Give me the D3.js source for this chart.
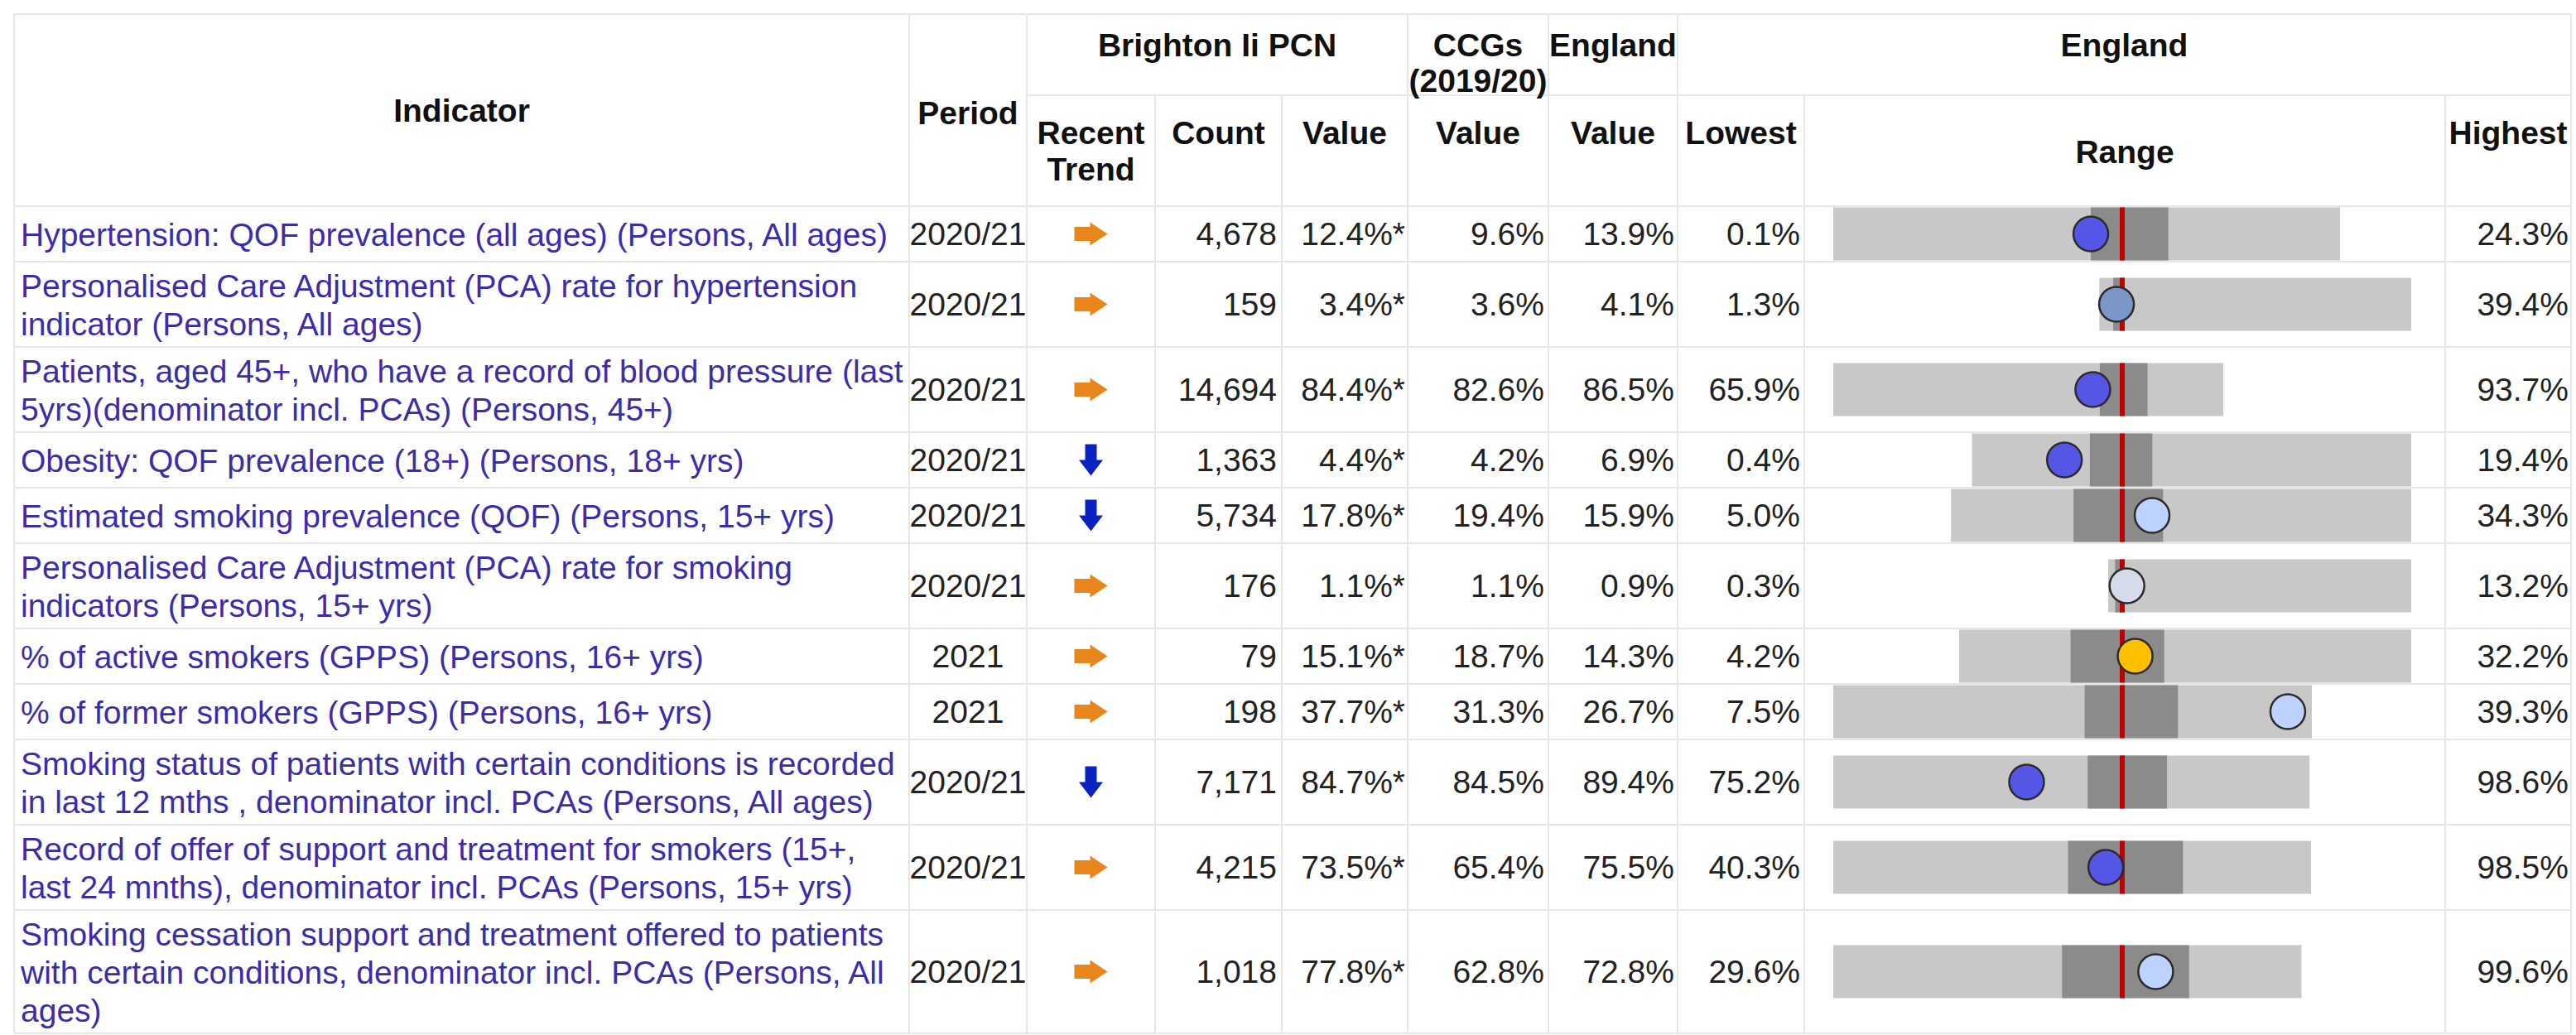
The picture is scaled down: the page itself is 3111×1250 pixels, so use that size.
<!DOCTYPE html>
<html>
<head>
<meta charset="utf-8">
<script src="https://cdn.jsdelivr.net/npm/d3@7"></script>
<style>
  body { margin: 0; background: #fff; }
  svg text { font-family: "Liberation Sans", Arial, sans-serif; }
</style>
</head>
<body>
<div id="chart"></div>
<script>
// indicator names, one entry per displayed line
const indicatorLines = [
  ["Hypertension: QOF prevalence (all ages) (Persons, All ages)"],
  ["Personalised Care Adjustment (PCA) rate for hypertension", "indicator (Persons, All ages)"],
  ["Patients, aged 45+, who have a record of blood pressure (last", "5yrs)(denominator incl. PCAs) (Persons, 45+)"],
  ["Obesity: QOF prevalence (18+) (Persons, 18+ yrs)"],
  ["Estimated smoking prevalence (QOF) (Persons, 15+ yrs)"],
  ["Personalised Care Adjustment (PCA) rate for smoking", "indicators (Persons, 15+ yrs)"],
  ["% of active smokers (GPPS) (Persons, 16+ yrs)"],
  ["% of former smokers (GPPS) (Persons, 16+ yrs)"],
  ["Smoking status of patients with certain conditions is recorded", "in last 12 mths , denominator incl. PCAs (Persons, All ages)"],
  ["Record of offer of support and treatment for smokers (15+,", "last 24 mnths), denominator incl. PCAs (Persons, 15+ yrs)"],
  ["Smoking cessation support and treatment offered to patients", "with certain conditions, denominator incl. PCAs (Persons, All", "ages)"]
];
const periods = ["2020/21", "2020/21", "2020/21", "2020/21", "2020/21", "2020/21", "2021", "2021", "2020/21", "2020/21", "2020/21"];
const trends = ["same", "same", "same", "down", "down", "same", "same", "same", "down", "same", "same"];
const counts = [4678, 159, 14694, 1363, 5734, 176, 79, 198, 7171, 4215, 1018];
const pcnValues = [12.4, 3.4, 84.4, 4.4, 17.8, 1.1, 15.1, 37.7, 84.7, 73.5, 77.8];
const ccgValues = [9.6, 3.6, 82.6, 4.2, 19.4, 1.1, 18.7, 31.3, 84.5, 65.4, 62.8];
const englandValues = [13.9, 4.1, 86.5, 6.9, 15.9, 0.9, 14.3, 26.7, 89.4, 75.5, 72.8];
const lowest = [0.1, 1.3, 65.9, 0.4, 5.0, 0.3, 4.2, 7.5, 75.2, 40.3, 29.6];
const highest = [24.3, 39.4, 93.7, 19.4, 34.3, 13.2, 32.2, 39.3, 98.6, 98.5, 99.6];
const pct25 = [12.4, 3.0, 84.9, 5.5, 12.8, 0.6, 11.1, 24.2, 87.7, 68.9, 63.8];
const pct75 = [16.1, 4.4, 88.3, 8.2, 18.5, 1.0, 16.9, 30.4, 91.6, 82.9, 82.8];
const comparison = ["lower", "mid", "lower", "lower", "higher", "pale", "similar", "higher", "lower", "lower", "higher"];

const compColors = {
  lower: "#5555E6",
  mid: "#7B97C9",
  higher: "#BED2FF",
  pale: "#D5DBEB",
  similar: "#FFC000"
};

const width = 3111, height = 1250;
const fontSize = 39, lineH = 46;
const gridColor = "#E6E6E6";
const textColor = "#222";
const linkColor = "#3B2DAA";

// column edges
const col = {
  left: 17, period: 1098, trend: 1240, count: 1395, value: 1548, ccg: 1700,
  eng: 1870, low: 2026, range: 2179, high: 2953, right: 3105
};
const tableTop = 17, headSplit = 115, headBottom = 249;

const svg = d3.select("#chart").append("svg")
  .attr("width", width)
  .attr("height", height);

svg.append("rect").attr("width", width).attr("height", height).attr("fill", "#fff");

// row geometry
const rowHeights = indicatorLines.map(l => l.length === 1 ? 67 : l.length * lineH + 11);
const rowTops = [headBottom, ...d3.cumsum(rowHeights).map(c => headBottom + c)].slice(0, rowHeights.length);
const rows = rowHeights.map((h, i) => ({ i, top: rowTops[i], h, mid: rowTops[i] + h / 2 }));
const tableBottom = rowTops[rows.length - 1] + rowHeights[rows.length - 1];

// grid lines
const grid = svg.append("g").attr("stroke", gridColor).attr("stroke-width", 2);
const hline = (x1, x2, y) => grid.append("line").attr("x1", x1).attr("x2", x2).attr("y1", y).attr("y2", y);
const vline = (x, y1, y2) => grid.append("line").attr("x1", x).attr("x2", x).attr("y1", y1).attr("y2", y2);

hline(col.left, col.right, tableTop);
hline(col.trend, col.right, headSplit);
hline(col.left, col.right, headBottom);
rows.forEach(r => hline(col.left, col.right, r.top + r.h));
vline(col.left, tableTop, tableBottom);
vline(col.right, tableTop, tableBottom);
[col.period, col.trend, col.ccg, col.eng, col.low].forEach(x => vline(x, tableTop, tableBottom));
[col.count, col.value, col.range, col.high].forEach(x => vline(x, headSplit, tableBottom));

// header
const head = svg.append("g")
  .attr("font-size", fontSize)
  .attr("font-weight", "bold")
  .attr("fill", "#111")
  .attr("text-anchor", "middle")
  .attr("dominant-baseline", "central");

const headerCells = [
  { t: "Indicator", x: (col.left + col.period) / 2, y: 133 },
  { t: "Period", x: (col.period + col.trend) / 2, y: 136 },
  { t: "Brighton Ii PCN", x: (col.trend + col.ccg) / 2, y: 54 },
  { t: "CCGs", x: (col.ccg + col.eng) / 2, y: 54 },
  { t: "(2019/20)", x: (col.ccg + col.eng) / 2, y: 97 },
  { t: "England", x: (col.eng + col.low) / 2, y: 54 },
  { t: "England", x: (col.low + col.right) / 2, y: 54 },
  { t: "Recent", x: (col.trend + col.count) / 2, y: 160 },
  { t: "Trend", x: (col.trend + col.count) / 2, y: 204 },
  { t: "Count", x: (col.count + col.value) / 2, y: 160 },
  { t: "Value", x: (col.value + col.ccg) / 2, y: 160 },
  { t: "Value", x: (col.ccg + col.eng) / 2, y: 160 },
  { t: "Value", x: (col.eng + col.low) / 2, y: 160 },
  { t: "Lowest", x: (col.low + col.range) / 2, y: 160 },
  { t: "Range", x: (col.range + col.high) / 2, y: 183 },
  { t: "Highest", x: (col.high + col.right) / 2, y: 160 }
];
head.selectAll("text").data(headerCells).join("text")
  .attr("x", d => d.x).attr("y", d => d.y).text(d => d.t);

// body
const body = svg.append("g")
  .attr("font-size", fontSize)
  .attr("dominant-baseline", "central");

const rowG = body.selectAll("g.row").data(rows).join("g").attr("class", "row");

// indicator names
rowG.append("text")
  .attr("fill", linkColor)
  .attr("x", 25)
  .each(function (r) {
    const lines = indicatorLines[r.i];
    const y0 = r.mid - (lines.length - 1) * lineH / 2;
    d3.select(this).selectAll("tspan").data(lines).join("tspan")
      .attr("x", 25)
      .attr("y", (d, k) => y0 + k * lineH)
      .text(d => d);
  });

// period
rowG.append("text")
  .attr("fill", textColor)
  .attr("text-anchor", "middle")
  .attr("x", (col.period + col.trend) / 2)
  .attr("y", r => r.mid)
  .text(r => periods[r.i]);

// trend arrows
const arrowRight = "M-20,-8.5L-1,-8.5L-1,-14L20,0L-1,14L-1,8.5L-20,8.5Z";
const arrowDown = "M-7,-19L7,-19L7,0L14.5,0L0,19L-14.5,0L-7,0Z";
rowG.append("path")
  .attr("transform", r => `translate(${(col.trend + col.count) / 2}, ${r.mid})`)
  .attr("d", r => trends[r.i] === "down" ? arrowDown : arrowRight)
  .attr("fill", r => trends[r.i] === "down" ? "#0B22C2" : "#E8861C");

const fmtCount = d3.format(",");
const fmtPct = v => d3.format(".1f")(v) + "%";

const numCols = [
  { x: col.value - 6, f: r => fmtCount(counts[r.i]) },
  { x: col.ccg - 3, f: r => fmtPct(pcnValues[r.i]) + "*" },
  { x: col.eng - 5, f: r => fmtPct(ccgValues[r.i]) },
  { x: col.low - 4, f: r => fmtPct(englandValues[r.i]) },
  { x: col.range - 5, f: r => fmtPct(lowest[r.i]) },
  { x: col.right - 3, f: r => fmtPct(highest[r.i]) }
];
numCols.forEach(c => {
  rowG.append("text")
    .attr("fill", textColor)
    .attr("text-anchor", "end")
    .attr("x", c.x)
    .attr("y", r => r.mid)
    .text(c.f);
});

// spine chart: England value in the centre, widest extreme at the edge
const spineLeft = 2214, spineRight = 2912, barH = 64;
rowG.each(function (r) {
  const g = d3.select(this);
  const e = englandValues[r.i];
  const m = Math.max(e - lowest[r.i], highest[r.i] - e);
  const x = d3.scaleLinear().domain([e - m, e + m]).range([spineLeft, spineRight]);

  g.append("rect")
    .attr("x", x(lowest[r.i]))
    .attr("width", x(highest[r.i]) - x(lowest[r.i]))
    .attr("y", r.mid - barH / 2)
    .attr("height", barH)
    .attr("fill", "#C8C8C8");

  g.append("rect")
    .attr("x", x(pct25[r.i]))
    .attr("width", x(pct75[r.i]) - x(pct25[r.i]))
    .attr("y", r.mid - barH / 2)
    .attr("height", barH)
    .attr("fill", "#8B8B8B");

  g.append("line")
    .attr("x1", x(e)).attr("x2", x(e))
    .attr("y1", r.mid - barH / 2).attr("y2", r.mid + barH / 2)
    .attr("stroke", "#C00000")
    .attr("stroke-width", 6);

  g.append("circle")
    .attr("cx", x(pcnValues[r.i]))
    .attr("cy", r.mid)
    .attr("r", 21)
    .attr("fill", compColors[comparison[r.i]])
    .attr("stroke", "#2b2b2b")
    .attr("stroke-width", 2.5);
});
</script>
</body>
</html>
